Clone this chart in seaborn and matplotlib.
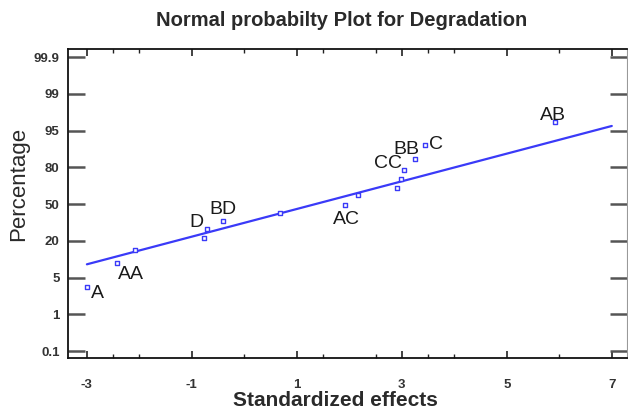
import numpy as np
import pandas as pd
import matplotlib
matplotlib.use("Agg")
import matplotlib.pyplot as plt
import seaborn as sns

# ---- data ----
effect_labels = ["A", "AA", "", "", "D", "BD", "", "AC", "", "", "", "CC", "BB", "C", "AB"]
effects = [-3.0, -2.42, -2.09, -0.77, -0.72, -0.40, 0.68, 1.91, 2.17, 2.90, 2.99, 3.04, 3.25, 3.44, 5.91]
percentages = [4.0, 11.0, 16.3, 22.1, 29.6, 36.5, 42.8, 49.1, 57.2, 63.5, 70.1, 77.9, 83.3, 89.2, 95.9]
line_x = [-3.0, 7.0]
line_pct = [10.4, 95.5]
y_tick_labels = ["0.1", "1", "5", "20", "50", "80", "95", "99", "99.9"]
y_tick_values = [0.1, 1, 5, 20, 50, 80, 95, 99, 99.9]
x_major = [-3, -1, 1, 3, 5, 7]
x_minor = [-2.5, -2, 0, 1.5, 2.5, 3.5, 4, 6]

# label offsets in pixels (dx, dy up)
label_offsets = {"A": (11, -7), "AA": (14, -12), "D": (-10, 7), "BD": (0, 11),
                 "AC": (2, -14), "CC": (-16, 6), "BB": (-9, 10), "C": (11, 0), "AB": (-2, 7)}

sns.set_style("ticks")
plt.rcParams["font.family"] = ["Liberation Sans", "DejaVu Sans"]

tick_pos = np.arange(len(y_tick_values))
def to_pos(p):
    return np.interp(p, y_tick_values, tick_pos)

df = pd.DataFrame({"effect": effects, "pos": to_pos(percentages), "label": effect_labels})
ldf = pd.DataFrame({"x": line_x, "pos": to_pos(line_pct)})

fig = plt.figure(figsize=(6.28, 4.11), dpi=100)
ax = fig.add_axes([68/628, 1-358/411, (627-68)/628, (358-49)/411])

blue = "#3a3af8"
sns.lineplot(data=ldf, x="x", y="pos", ax=ax, color=blue, linewidth=1.6)
sns.scatterplot(data=df, x="effect", y="pos", ax=ax, marker="s", s=6,
                facecolor="white", edgecolor=blue, linewidth=1.0, zorder=3)

for _, r in df.iterrows():
    if r["label"]:
        dx, dy = label_offsets[r["label"]]
        ax.annotate(r["label"], (r["effect"], r["pos"]), xytext=(dx, dy),
                    textcoords="offset pixels", ha="center", va="center",
                    fontsize=14, color="#1a1a1a")

ax.set_xlim(-3.36, 7.29)
ax.set_ylim(-0.19, 8.22)
ax.set_xticks(x_major)
ax.set_xticks(x_minor, minor=True)
ax.set_xticklabels([str(v) for v in x_major])
ax.set_yticks(tick_pos)
ax.set_yticklabels(y_tick_labels)

for t in ax.get_xticklabels() + ax.get_yticklabels():
    t.set_family(["Liberation Sans", "DejaVu Sans"])
    t.set_fontweight("bold")
    t.set_fontsize(9.5)
    t.set_color("#333333")

ax.tick_params(axis="y", which="major", direction="in", length=12, width=1.8,
               color="#555555", left=True, right=True, labelleft=True, labelright=False, pad=6)
ax.tick_params(axis="x", which="major", direction="in", length=5, width=1.2,
               color="#222222", top=True, bottom=True, pad=15)
ax.tick_params(axis="x", which="minor", direction="in", length=3, width=1.0,
               color="#222222", top=True, bottom=True)

for s in ax.spines.values():
    s.set_linewidth(1.3)
    s.set_color("#111111")
ax.spines["right"].set_color("#999999")
ax.spines["right"].set_linewidth(0.8)

ax.set_xlabel("Standardized effects", fontsize=15, fontweight="bold", color="#2a2a2a")
ax.xaxis.label.set_verticalalignment("center")
ax.xaxis.set_label_coords((335-68)/559, -(400-358)/309)
ax.set_ylabel("Percentage", fontsize=16, color="#2a2a2a")
ax.yaxis.label.set_verticalalignment("center")
ax.yaxis.set_label_coords(-(68-19)/559, (358-184)/309)
fig.text(342/628, 1-20/411, "Normal probabilty Plot for Degradation", ha="center", va="center",
         fontsize=14.5, fontweight="bold", color="#2a2a2a")

fig.savefig("out.png", dpi=100)
